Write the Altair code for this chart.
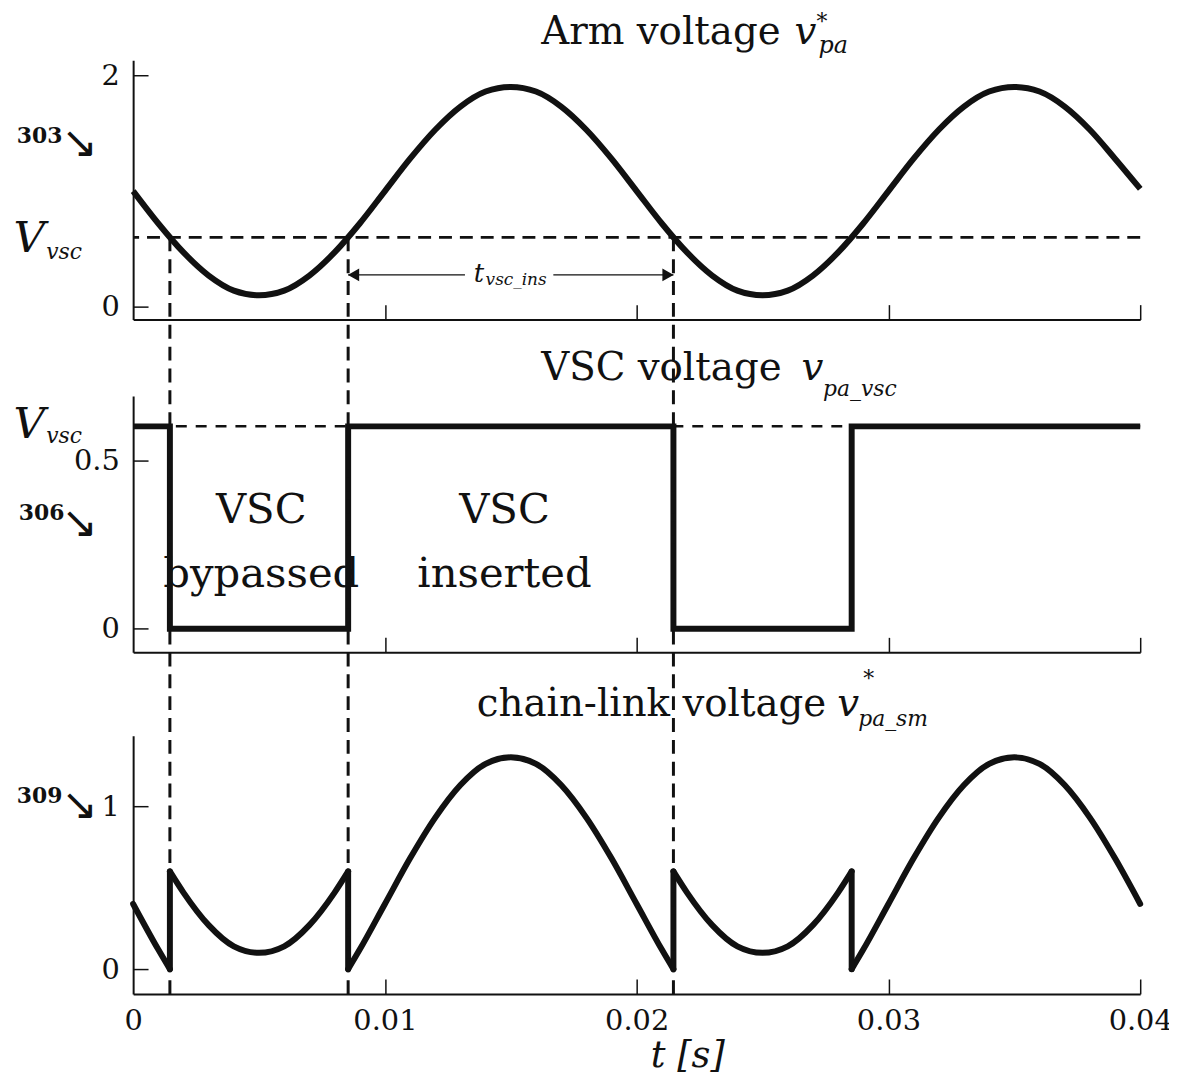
import altair as alt
import pandas as pd

# ---------------- data ----------------
V_VSC = 0.6                      # VSC voltage level (p.u.)
arm_t = [i / 1000 for i in range(41)]          # time grid, 1 ms
arm_v = [1.00, 0.72, 0.47, 0.27, 0.14, 0.10, 0.14, 0.27, 0.47, 0.72,
         1.00, 1.28, 1.53, 1.73, 1.86, 1.90, 1.86, 1.73, 1.53, 1.28,
         1.00, 0.72, 0.47, 0.27, 0.14, 0.10, 0.14, 0.27, 0.47, 0.72,
         1.00, 1.28, 1.53, 1.73, 1.86, 1.90, 1.86, 1.73, 1.53, 1.28, 1.02]

switch_t = [0.00146, 0.00854, 0.02146, 0.02854]   # VSC switching instants

vsc_t = [0.0, 0.00146, 0.00146, 0.00854, 0.00854, 0.02146, 0.02146, 0.02854, 0.02854, 0.04]
vsc_v = [0.6, 0.6, 0.0, 0.0, 0.6, 0.6, 0.0, 0.0, 0.6, 0.6]

chain_t = [0.0, 0.001, 0.00146,
           0.00146, 0.002, 0.003, 0.004, 0.005, 0.006, 0.007, 0.008, 0.00854,
           0.00854, 0.009, 0.010, 0.011, 0.012, 0.013, 0.014, 0.015, 0.016, 0.017, 0.018, 0.019, 0.020, 0.021, 0.02146,
           0.02146, 0.022, 0.023, 0.024, 0.025, 0.026, 0.027, 0.028, 0.02854,
           0.02854, 0.029, 0.030, 0.031, 0.032, 0.033, 0.034, 0.035, 0.036, 0.037, 0.038, 0.039, 0.040]
chain_v = [0.40, 0.12, 0.00,
           0.60, 0.47, 0.27, 0.14, 0.10, 0.14, 0.27, 0.47, 0.60,
           0.00, 0.12, 0.40, 0.68, 0.93, 1.13, 1.26, 1.30, 1.26, 1.13, 0.93, 0.68, 0.40, 0.12, 0.00,
           0.60, 0.47, 0.27, 0.14, 0.10, 0.14, 0.27, 0.47, 0.60,
           0.00, 0.12, 0.40, 0.68, 0.93, 1.13, 1.26, 1.30, 1.26, 1.13, 0.93, 0.68, 0.40]
chain_seg = [1] * 3 + [2] * 9 + [3] * 15 + [4] * 9 + [5] * 13

marker_t = [0.00146, 0.00854, 0.02146]       # vertical dashed markers
ins_arrow = [0.00854, 0.02146]               # t_vsc_ins span
ins_arrow_gap = [0.01318, 0.01669]           # gap left for the label
ins_arrow_v = 0.276

x_ticks = [0.0, 0.01, 0.02, 0.03, 0.04]

# ---------------- styling / layout ----------------
INK = "#111111"
SERIF = "DejaVu Serif"
LW = 6
W, H = 1014, 989
X_DOM = [0, 0.04]
Y_TOP = dict(domain=[-0.11, 2.13], range=[310, 49])
Y_MID = dict(domain=[-0.07, 0.69], range=[645, 387])
Y_BOT = dict(domain=[-0.152, 1.433], range=[989, 729])


def ysc(p):
    return alt.Scale(domain=p["domain"], range=p["range"], nice=False, zero=False)


def xsc():
    return alt.Scale(domain=X_DOM, nice=False, zero=False)


def x_tick_axis(pos):
    return alt.Axis(orient="top", offset=-pos, values=x_ticks[1:], labels=False,
                    ticks=True, tickSize=15, tickWidth=1.5, tickColor=INK,
                    domain=True, domainWidth=2, domainColor=INK, grid=False, title=None)


def y_label_axis(values):
    return alt.Axis(orient="left", values=values, format="~g", domain=False, ticks=False,
                    labelPadding=14, labelFont=SERIF, labelFontSize=29, labelColor=INK,
                    grid=False, title=None)


def y_tick_axis(values):
    return alt.Axis(orient="right", offset=-W, values=values, labels=False,
                    ticks=True, tickSize=15, tickWidth=1.5, tickColor=INK,
                    domain=True, domainWidth=2, domainColor=INK, grid=False, title=None)


# ---------------- top panel: arm voltage ----------------
arm_df = pd.DataFrame({"t": arm_t, "v": arm_v})
level_df = pd.DataFrame({"v": [V_VSC]})

arm_line = alt.Chart(arm_df).mark_line(interpolate="monotone", stroke=INK, strokeWidth=LW).encode(
    x=alt.X("t:Q", scale=xsc(), axis=x_tick_axis(310)),
    y=alt.Y("v:Q", scale=ysc(Y_TOP), axis=y_label_axis([0, 2])),
)
top_level = alt.Chart(level_df).mark_rule(stroke=INK, strokeWidth=3, strokeDash=[13, 8]).encode(
    y=alt.Y("v:Q", scale=ysc(Y_TOP), axis=y_tick_axis([0, 2])),
)

# ---------------- middle panel: VSC voltage ----------------
vsc_df = pd.DataFrame({"t": vsc_t, "v": vsc_v, "i": list(range(len(vsc_t)))})
vsc_line = alt.Chart(vsc_df).mark_line(stroke=INK, strokeWidth=LW, strokeJoin="miter").encode(
    x=alt.X("t:Q", scale=xsc(), axis=x_tick_axis(645)),
    y=alt.Y("v:Q", scale=ysc(Y_MID), axis=y_label_axis([0, 0.5])),
    order="i:Q",
)
mid_level = alt.Chart(level_df).mark_rule(stroke=INK, strokeWidth=2.5, strokeDash=[11, 9]).encode(
    y=alt.Y("v:Q", scale=ysc(Y_MID), axis=y_tick_axis([0, 0.5])),
)

# ---------------- bottom panel: chain-link voltage ----------------
chain_df = pd.DataFrame({"t": chain_t, "v": chain_v, "seg": chain_seg,
                         "i": list(range(len(chain_t)))})
bottom_x_axis = alt.Axis(orient="bottom", values=x_ticks, format=".2~f", domain=False, ticks=False,
                         labelPadding=13, labelFont=SERIF, labelFontSize=29, labelColor=INK,
                         labelFlush=False, labelOverlap=False, grid=False,
                         title="t  [s]", titleFont=SERIF, titleFontStyle="italic",
                         titleFontWeight="normal", titleFontSize=37, titleColor=INK,
                         titleX=558, titleY=73, titleBaseline="alphabetic", titleAlign="center")
chain_line = alt.Chart(chain_df).mark_line(interpolate="monotone", stroke=INK, strokeWidth=LW,
                                           strokeCap="round").encode(
    x=alt.X("t:Q", scale=xsc(), axis=bottom_x_axis),
    y=alt.Y("v:Q", scale=ysc(Y_BOT), axis=y_label_axis([0, 1])),
    detail="seg:N",
    order="i:Q",
)
jump_df = pd.DataFrame({"t": switch_t, "lo": [0.0] * 4, "hi": [V_VSC] * 4})
chain_jumps = alt.Chart(jump_df).mark_rule(stroke=INK, strokeWidth=LW, strokeCap="round").encode(
    x=alt.X("t:Q", scale=xsc(), axis=x_tick_axis(989)),
    y=alt.Y("lo:Q", scale=ysc(Y_BOT), axis=y_tick_axis([0, 1])),
    y2="hi:Q",
)

# ---------------- vertical markers and t_vsc_ins arrow ----------------
marker_df = pd.DataFrame({"t": marker_t, "v": [V_VSC] * len(marker_t)})
markers = alt.Chart(marker_df).mark_rule(stroke=INK, strokeWidth=3, strokeDash=[14, 8]).encode(
    x=alt.X("t:Q", scale=xsc(), axis=None),
    y=alt.Y("v:Q", scale=ysc(Y_TOP), axis=None),
    y2=alt.value("height"),
)
seg_df = pd.DataFrame({"a": [ins_arrow[0], ins_arrow_gap[1]], "b": [ins_arrow_gap[0], ins_arrow[1]],
                       "v": [ins_arrow_v, ins_arrow_v]})
arrow_lines = alt.Chart(seg_df).mark_rule(stroke=INK, strokeWidth=1.5).encode(
    x=alt.X("a:Q", scale=xsc(), axis=None), x2="b:Q",
    y=alt.Y("v:Q", scale=ysc(Y_TOP), axis=None),
)
head_df = pd.DataFrame({"t": ins_arrow, "v": [ins_arrow_v] * 2,
                        "shape": ["triangle-left", "triangle-right"]})
arrow_heads = alt.layer(*[
    alt.Chart(head_df.iloc[[k]]).mark_point(filled=True, fill=INK, stroke=INK, size=90,
                                            opacity=1, xOffset=o).encode(
        x=alt.X("t:Q", scale=xsc(), axis=None),
        y=alt.Y("v:Q", scale=ysc(Y_TOP), axis=None),
        shape=alt.Shape("shape:N", scale=None),
    ) for k, o in enumerate([6, -6])
])

# ---------------- texts ----------------
def texts(rows, yp, style="normal", weight="normal", align="left", font=SERIF):
    df = pd.DataFrame(rows, columns=["text", "t", "v", "size"])
    return alt.Chart(df).mark_text(font=font, fontStyle=style, fontWeight=weight, align=align,
                                   baseline="alphabetic", color=INK).encode(
        x=alt.X("t:Q", scale=xsc(), axis=None),
        y=alt.Y("v:Q", scale=ysc(yp), axis=None),
        text="text:N",
        size=alt.Size("size:Q", scale=None, legend=None),
    )


text_layers = [
    # top panel
    texts([("Arm voltage", 0.01621, 2.275, 39), ("*", 0.02714, 2.40, 22)], Y_TOP),
    texts([("v", 0.02627, 2.275, 39), ("pa", 0.02722, 2.19, 24),
           ("V", -0.00475, 0.474, 44), ("vsc", -0.00345, 0.4135, 22),
           ("t", 0.01353, 0.216, 26), ("vsc_ins", 0.01400, 0.19, 17)], Y_TOP, style="italic"),
    texts([("303", -0.00462, 1.4176, 22)], Y_TOP, weight="bold"),
    texts([("↘", -0.00213, 1.297, 44)], Y_TOP, align="center", font="DejaVu Sans"),
    # middle panel
    texts([("VSC voltage", 0.01621, 0.737, 39)], Y_MID),
    texts([("VSC", 0.00509, 0.313, 42), ("bypassed", 0.00509, 0.1244, 42),
           ("VSC", 0.01475, 0.313, 42), ("inserted", 0.01475, 0.1244, 42)], Y_MID, align="center"),
    texts([("v", 0.02655, 0.737, 39), ("pa_vsc", 0.02740, 0.690, 22),
           ("V", -0.00475, 0.566, 44), ("vsc", -0.00345, 0.5500, 22)], Y_MID, style="italic"),
    texts([("306", -0.00454, 0.3218, 22)], Y_MID, weight="bold"),
    texts([("↘", -0.00213, 0.272, 44)], Y_MID, align="center", font="DejaVu Sans"),
    # bottom panel
    texts([("chain-link voltage", 0.01365, 1.555, 39), ("*", 0.02900, 1.74, 22)], Y_BOT),
    texts([("v", 0.02797, 1.555, 39), ("pa_sm", 0.02880, 1.494, 22)], Y_BOT, style="italic"),
    texts([("309", -0.00462, 1.0187, 22)], Y_BOT, weight="bold"),
    texts([("↘", -0.00213, 0.92, 44)], Y_BOT, align="center", font="DejaVu Sans"),
]

chart = alt.layer(
    top_level, mid_level, arm_line, vsc_line, chain_line, chain_jumps,
    markers, arrow_lines, arrow_heads, *text_layers,
).resolve_scale(
    x="independent", y="independent"
).properties(
    width=W, height=H,
    padding={"left": 126, "top": 0, "right": 29, "bottom": 82},
    autosize=alt.AutoSizeParams(type="none"),
    background="white",
).configure_view(stroke=None)

chart.save("out.html", embed_options={"renderer": "svg", "actions": False})
